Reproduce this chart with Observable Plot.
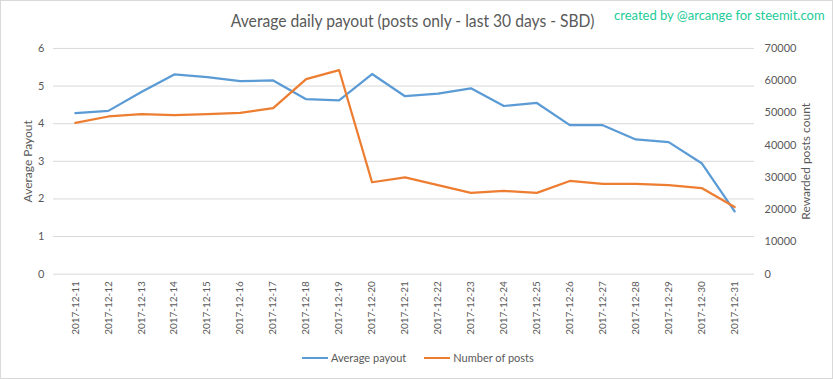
<!DOCTYPE html>
<html>
<head>
<meta charset="utf-8">
<script src="https://cdn.jsdelivr.net/npm/d3@7"></script>
<script src="https://cdn.jsdelivr.net/npm/@observablehq/plot@0.6"></script>
<style>
  html, body { margin: 0; padding: 0; background: #fff; }
  #wrap { position: relative; width: 833px; height: 379px; box-sizing: border-box; border: 1px solid #d9d9d9; overflow: hidden; font-family: Lato, "Open Sans", sans-serif; }
  #title { position: absolute; left: 0; width: 833px; top: 9px; text-align: center; font-size: 17px; color: #595959; white-space: nowrap; }
  #title span { display: inline-block; transform: scaleX(0.92); margin-left: -10px; }
  #credit { position: absolute; left: 613px; top: 6px; font-size: 13px; color: #22cc99; white-space: nowrap; }
  #chart { position: absolute; left: -1px; top: -1px; }
  #legend { position: absolute; top: 350px; left: 301px; font-size: 11px; color: #595959; display: flex; align-items: center; white-space: nowrap; }
  #legend .sw { display: inline-block; width: 26px; height: 2px; margin-right: 3px; }
  #legend .item { display: flex; align-items: center; margin-right: 18px; }
</style>
</head>
<body>
<div id="wrap">
  <div id="title"><span>Average daily payout (posts only - last 30 days - SBD)</span></div>
  <div id="credit">created by @arcange for steemit.com</div>
  <div id="chart"></div>
  <div id="legend"></div>
</div>
<script>
const dates = ["2017-12-11","2017-12-12","2017-12-13","2017-12-14","2017-12-15","2017-12-16","2017-12-17",
  "2017-12-18","2017-12-19","2017-12-20","2017-12-21","2017-12-22","2017-12-23","2017-12-24","2017-12-25",
  "2017-12-26","2017-12-27","2017-12-28","2017-12-29","2017-12-30","2017-12-31"];
const averagePayout = [4.28, 4.34, 4.84, 5.31, 5.24, 5.13, 5.15, 4.65, 4.62, 5.32, 4.73, 4.80, 4.94, 4.47, 4.55, 3.96, 3.96, 3.58, 3.51, 2.95, 1.67];
const numberOfPosts = [46900, 48900, 49600, 49300, 49600, 50000, 51500, 60500, 63300, 28500, 30000, 27600, 25200, 25800, 25200, 28900, 28000, 28000, 27600, 26700, 20800];
const leftTicks = [0, 1, 2, 3, 4, 5, 6];
const rightTicks = [0, 10000, 20000, 30000, 40000, 50000, 60000, 70000];
const seriesNames = ["Average payout", "Number of posts"];
const seriesColors = ["#5b9bd5", "#ed7d31"];

const leftMax = 6, rightMax = 70000;
const toLeft = v => v * leftMax / rightMax;

const rows = dates.map((d, i) => ({date: d, payout: averagePayout[i], posts: toLeft(numberOfPosts[i])}));

const chart = Plot.plot({
  width: 833,
  height: 345,
  marginTop: 48,
  marginBottom: 71,
  marginLeft: 53,
  marginRight: 78,
  style: {fontFamily: "Lato, 'Open Sans', sans-serif", fontSize: "11px", color: "#595959", background: "transparent"},
  x: {type: "point", domain: dates, range: [72, 737], padding: 0},
  y: {domain: [0, leftMax]},
  marks: [
    Plot.ruleY(leftTicks, {stroke: "#d9d9d9", strokeWidth: 1}),
    Plot.axisX({tickRotate: -90, tickSize: 0, tickPadding: 7, fontSize: 10, label: null}),
    Plot.axisY({anchor: "left", ticks: leftTicks, tickSize: 0, tickPadding: 9, fontSize: 11,
      tickFormat: d => String(d),
      label: "Average Payout", labelAnchor: "center", labelArrow: "none", labelOffset: 30}),
    Plot.axisY({anchor: "right", ticks: rightTicks.map(toLeft), tickSize: 0, tickPadding: 10, fontSize: 11,
      tickFormat: d => String(Math.round(d * rightMax / leftMax)),
      label: "Rewarded posts count", labelAnchor: "center", labelArrow: "none", labelOffset: 55}),
    Plot.line(rows, {x: "date", y: "payout", stroke: seriesColors[0], strokeWidth: 2.25, strokeLinejoin: "round"}),
    Plot.line(rows, {x: "date", y: "posts", stroke: seriesColors[1], strokeWidth: 2.25, strokeLinejoin: "round"})
  ]
});
document.getElementById("chart").appendChild(chart);
d3.select(chart).selectAll("g[aria-label='y-axis label'] text").style("font-size", "12px");

const legend = document.getElementById("legend");
seriesNames.forEach((name, i) => {
  const item = document.createElement("div");
  item.className = "item";
  const sw = document.createElement("span");
  sw.className = "sw";
  sw.style.background = seriesColors[i];
  item.appendChild(sw);
  item.appendChild(document.createTextNode(name));
  legend.appendChild(item);
});
</script>
</body>
</html>
